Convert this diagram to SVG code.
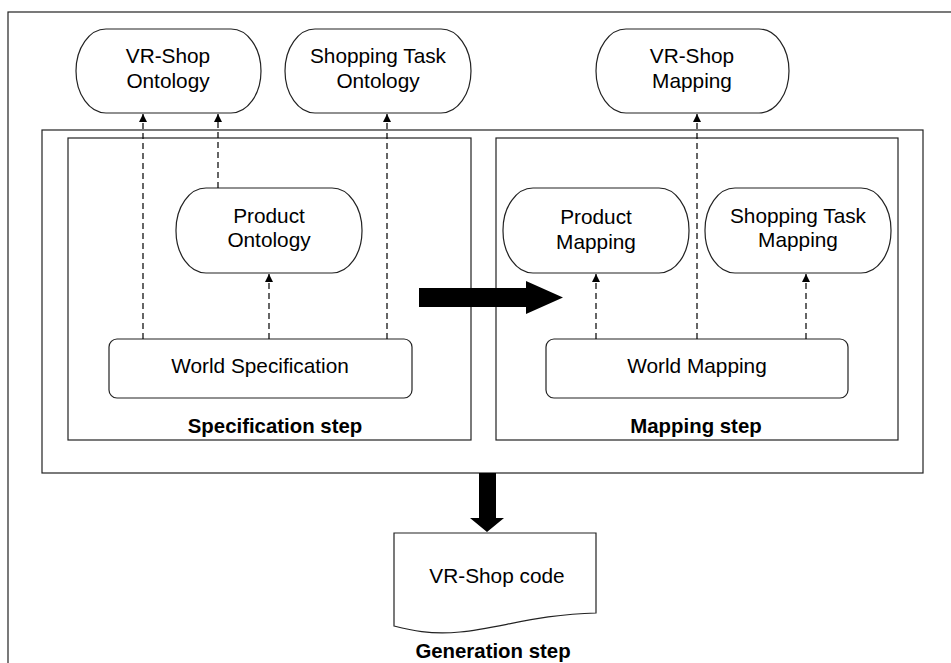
<svg xmlns="http://www.w3.org/2000/svg" width="951" height="663" viewBox="0 0 951 663">
<style>
.frame{fill:none;stroke:#222;stroke-width:1.2}
.node{fill:#fff;stroke:#222;stroke-width:1.2}
.t{font-family:"Liberation Sans",Arial,sans-serif;font-size:20.8px;fill:#000;text-anchor:middle}
.b{font-weight:bold;font-size:20.4px}
.dash{fill:none;stroke:#000;stroke-width:1.2;stroke-dasharray:6 4}
.big{fill:#000;stroke:none}
</style>
<defs>
<marker id="ah" markerUnits="userSpaceOnUse" markerWidth="8" markerHeight="9" refX="8" refY="4" orient="auto" viewBox="0 0 8 8">
<path d="M0,0 L8,4 L0,8 Z" fill="#000"/>
</marker>
</defs>
<rect width="951" height="663" fill="#fff"/>
<rect class="frame" x="8" y="12" width="1000" height="700"/>
<g id="container">
<rect class="frame" x="42" y="130" width="881" height="343"/>
</g>
<g id="specification-step">
<rect class="frame" x="68" y="138" width="403" height="302"/>
<text class="t b" x="275" y="433">Specification step</text>
</g>
<g id="mapping-step">
<rect class="frame" x="496" y="138" width="402" height="302"/>
<text class="t b" x="696" y="433">Mapping step</text>
</g>
<g id="vrshop-ontology">
<rect class="node" x="76" y="29" width="185" height="84" rx="30" ry="42"/>
<text class="t" x="168" y="63">VR-Shop</text>
<text class="t" x="168" y="88">Ontology</text>
</g>
<g id="shopping-task-ontology">
<rect class="node" x="285" y="29" width="186" height="84" rx="30" ry="42"/>
<text class="t" x="378" y="63">Shopping Task</text>
<text class="t" x="378" y="88">Ontology</text>
</g>
<g id="vrshop-mapping">
<rect class="node" x="596" y="29" width="193" height="84" rx="30" ry="42"/>
<text class="t" x="692" y="63">VR-Shop</text>
<text class="t" x="692" y="88">Mapping</text>
</g>
<g id="product-ontology">
<rect class="node" x="176" y="188" width="186" height="85" rx="30" ry="42"/>
<text class="t" x="269" y="223">Product</text>
<text class="t" x="269" y="247">Ontology</text>
</g>
<g id="product-mapping">
<rect class="node" x="503" y="188" width="186" height="85" rx="30" ry="42"/>
<text class="t" x="596" y="224">Product</text>
<text class="t" x="596" y="249">Mapping</text>
</g>
<g id="shopping-task-mapping">
<rect class="node" x="705" y="188" width="186" height="85" rx="30" ry="42"/>
<text class="t" x="798" y="223">Shopping Task</text>
<text class="t" x="798" y="247">Mapping</text>
</g>
<g id="world-specification">
<rect class="node" x="109" y="339" width="303" height="59" rx="8" ry="8"/>
<text class="t" x="260" y="373">World Specification</text>
</g>
<g id="world-mapping">
<rect class="node" x="546" y="339" width="302" height="59" rx="8" ry="8"/>
<text class="t" x="697" y="373">World Mapping</text>
</g>
<g id="vrshop-code">
<path class="node" d="M394,533 H596 V613 C540,614 500,628 460,632 C430,635 410,630 394,626 Z"/>
<text class="t" x="497" y="583">VR-Shop code</text>
<text class="t b" x="493" y="658">Generation step</text>
</g>
<g id="connectors">
<line class="dash" x1="143" y1="339" x2="143" y2="114" marker-end="url(#ah)"/>
<line class="dash" x1="218" y1="188" x2="218" y2="114" marker-end="url(#ah)"/>
<line class="dash" x1="387" y1="339" x2="387" y2="114" marker-end="url(#ah)"/>
<line class="dash" x1="269" y1="339" x2="269" y2="274" marker-end="url(#ah)"/>
<line class="dash" x1="596" y1="339" x2="596" y2="274" marker-end="url(#ah)"/>
<line class="dash" x1="697" y1="339" x2="697" y2="114" marker-end="url(#ah)"/>
<line class="dash" x1="806" y1="339" x2="806" y2="274" marker-end="url(#ah)"/>
<path class="big" d="M419,288 H526 V281 L563,297.5 L526,314 V307 H419 Z"/>
<path class="big" d="M479,473 H496 V518 H504 L487,532 L470,518 H479 Z"/>
</g>
</svg>
